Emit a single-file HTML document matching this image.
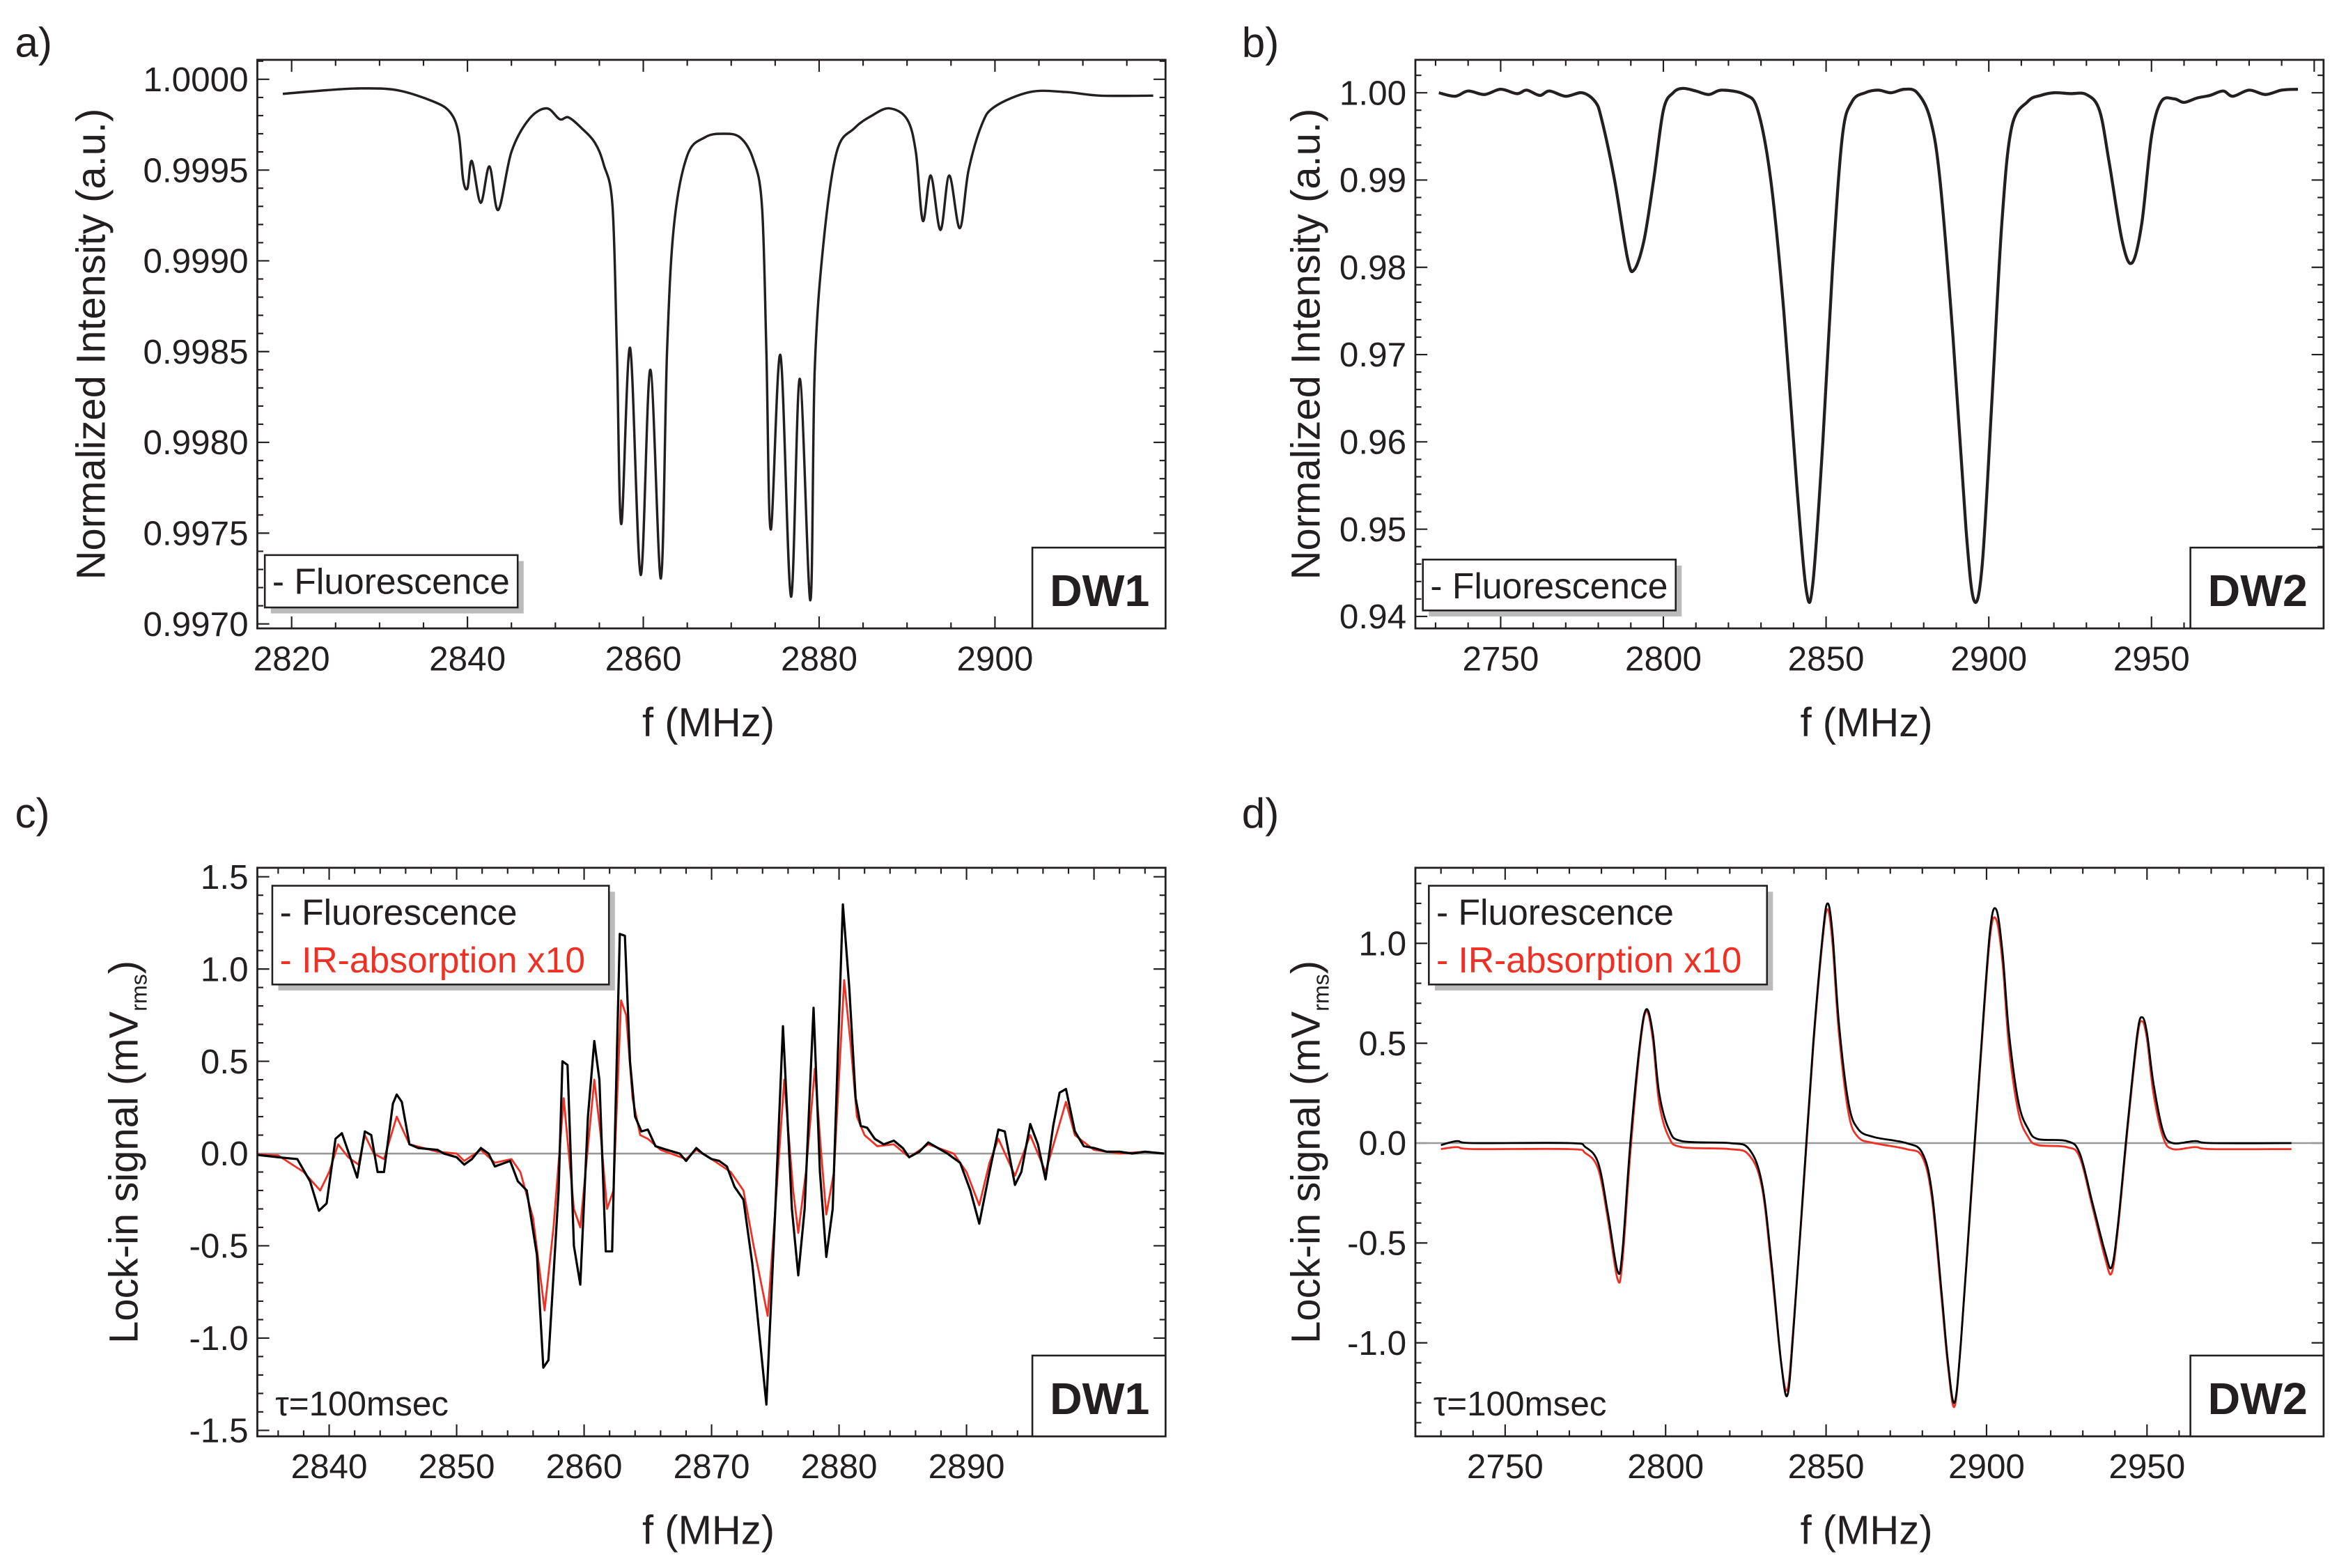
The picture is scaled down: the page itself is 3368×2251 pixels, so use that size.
<!DOCTYPE html>
<html><head><meta charset="utf-8"><style>
html,body{margin:0;padding:0;background:#fff;}
svg{display:block;}
text{font-family:"Liberation Sans Narrow","Liberation Sans",sans-serif;fill:#231f20;}
</style></head><body>
<svg id="fig" xmlns="http://www.w3.org/2000/svg" width="3368" height="2251" viewBox="0 0 1568 1048" preserveAspectRatio="none"></svg>
<script>
// ---- Panel a data (DW1 fluorescence) ----
const aFreq=[2819,2824,2828,2832,2836,2838,2839,2839.5,2840,2840.5,2841.5,2842.5,2843.5,2845,2847,2849,2850.5,2851.5,2853,2854.5,2855.5,2856.5,2857,2857.5,2858.5,2859.7,2860.8,2862,2862.7,2863.5,2865,2867,2869,2871,2872.5,2873.5,2874,2874.5,2875.6,2876.8,2877.8,2879,2879.5,2880.5,2882,2884,2886,2888,2890,2891,2891.8,2892.7,2893.8,2894.8,2896,2897,2898.5,2900,2904,2908,2912,2918];
const aVal=[0.99992,0.99994,0.99995,0.99994,0.99988,0.99982,0.9997,0.99945,0.9994,0.99955,0.99932,0.99952,0.99928,0.9996,0.99978,0.99984,0.99978,0.99979,0.99973,0.99965,0.99953,0.9993,0.9985,0.99755,0.99852,0.99727,0.9984,0.99725,0.9985,0.9992,0.99958,0.99968,0.9997,0.99968,0.99956,0.9993,0.9985,0.99752,0.99848,0.99715,0.99835,0.99713,0.9984,0.9991,0.9996,0.99973,0.9998,0.99984,0.99978,0.9996,0.99922,0.99947,0.99917,0.99947,0.99918,0.9995,0.99975,0.99985,0.99993,0.99993,0.99991,0.99991];
// ---- Panel b data (DW2 fluorescence) ----
const bFreq=[2731,2736,2740,2745,2750,2755,2758,2762,2765,2770,2775,2779,2781,2785,2789,2791,2794,2797,2800,2803,2806,2810,2814,2818,2825,2829,2833,2837,2841,2844,2846,2849,2852,2855,2858,2862,2866,2870,2874,2878,2882,2885,2889,2893,2895.5,2898,2901,2904,2907,2912,2916,2920,2925,2930,2934,2937,2941,2944,2947,2950,2953,2957,2960,2964,2968,2972,2975,2980,2985,2990,2995];
const bVal=[1.0,0.9996,1.0002,0.9998,1.0004,0.9999,1.0003,0.9997,1.0002,0.9996,1.0,0.999,0.997,0.99,0.981,0.9797,0.983,0.99,0.998,1.0,1.0005,1.0002,0.9998,1.0003,0.9998,0.998,0.99,0.975,0.955,0.9428,0.944,0.96,0.98,0.995,0.999,1.0,1.0003,1.0,1.0004,1.0,0.997,0.99,0.972,0.95,0.9418,0.946,0.965,0.985,0.996,0.999,0.9997,1.0,0.9999,0.9998,0.998,0.992,0.983,0.9805,0.985,0.995,0.999,0.9993,0.9989,0.9994,0.9997,1.0002,0.9996,1.0003,0.9998,1.0003,1.0004];
// ---- Panel c data (DW1 lock-in) ----
const cFreq=[2833.5,2836,2837.5,2838.5,2839.2,2839.8,2840.5,2841,2841.8,2842.2,2842.8,2843.3,2843.8,2844.3,2845,2845.3,2845.7,2846.3,2847,2848.5,2849,2850,2850.6,2851.2,2851.9,2852.5,2853,2853.8,2854.2,2854.8,2855.5,2856.3,2856.8,2857.2,2858,2858.3,2858.7,2859.2,2859.7,2860.3,2860.8,2861.2,2861.7,2862.2,2862.8,2863.2,2863.6,2864,2864.5,2865,2865.6,2866.5,2867.5,2868,2868.8,2869.3,2870,2870.6,2871.2,2871.8,2872.5,2873.2,2874.3,2875,2875.6,2876.3,2876.8,2877.3,2878,2878.5,2879,2879.5,2880.3,2880.8,2881.3,2881.7,2882.2,2882.8,2883.5,2884.3,2885,2885.5,2886.3,2887,2887.5,2888.5,2889.5,2890.3,2891,2891.8,2892.5,2893,2893.8,2894.3,2895,2895.6,2896.2,2896.8,2897.3,2897.8,2898.5,2899.2,2900,2901,2902,2903,2904,2905.5];
const cFluo=[0,-0.02,-0.03,-0.15,-0.31,-0.27,0.08,0.11,-0.05,-0.13,0.12,0.10,-0.10,-0.10,0.27,0.32,0.28,0.05,0.03,0.02,0,-0.02,-0.06,-0.03,0.03,0,-0.07,-0.05,-0.04,-0.15,-0.2,-0.55,-1.16,-1.12,-0.2,0.5,0.48,-0.5,-0.71,0.2,0.61,0.4,-0.53,-0.53,1.19,1.18,0.5,0.2,0.12,0.13,0.04,0.02,0,-0.04,0.03,0,-0.03,-0.04,-0.07,-0.18,-0.25,-0.6,-1.36,-0.3,0.69,-0.3,-0.66,-0.3,0.79,-0.1,-0.56,-0.3,1.35,0.9,0.3,0.15,0.14,0.08,0.05,0.07,0.03,-0.02,0.01,0.06,0.04,0,-0.05,-0.2,-0.38,-0.1,0.13,0.12,-0.17,-0.1,0.16,0.05,-0.14,0.15,0.33,0.35,0.12,0.04,0.03,0.01,0.01,0,0.01,0];
const cIRFreq=[2833.5,2836,2838,2839.3,2840,2840.7,2841.5,2842.3,2842.8,2843.5,2844.3,2845.3,2846.3,2848.5,2850,2850.6,2851.9,2853,2854.3,2855,2856,2856.9,2857.6,2858.4,2859.2,2859.7,2860.8,2861.3,2861.8,2862.3,2862.9,2863.3,2863.8,2864.4,2865,2866,2868,2868.8,2870,2871.5,2872.5,2873.3,2874.4,2875.1,2875.7,2876.4,2876.8,2877.4,2878.1,2878.6,2879,2879.6,2880.4,2880.9,2881.4,2882,2883,2884.3,2885.5,2887,2889,2890,2891,2891.8,2892.5,2893.8,2895,2896.2,2897.8,2898.5,2900,2902,2904,2905.5];
const cIR=[0,-0.01,-0.1,-0.2,-0.1,0.05,-0.02,-0.06,0.1,0,-0.03,0.2,0.05,0.01,0,-0.04,0.02,-0.05,-0.03,-0.1,-0.35,-0.85,-0.4,0.3,-0.3,-0.4,0.4,0.1,-0.3,-0.2,0.83,0.75,0.3,0.1,0.08,0.02,-0.03,0.02,-0.03,-0.1,-0.2,-0.5,-0.88,-0.2,0.4,-0.2,-0.43,-0.1,0.46,0,-0.33,-0.1,0.94,0.6,0.2,0.1,0.04,0.05,-0.02,0.05,0,-0.1,-0.28,-0.05,0.08,-0.12,0.1,-0.1,0.28,0.1,0.02,0,0.01,0];
// ---- Panel d data (DW2 lock-in) ----
const dFreq=[2730,2735,2740,2770,2775,2779,2782,2785,2786.5,2789,2792,2794,2796,2798,2801,2805,2820,2826,2830,2833,2836,2838,2840,2843,2846,2849,2850.5,2852,2854,2857,2860,2865,2875,2880,2883,2886,2888,2890,2892,2895,2898,2901,2903,2905,2907,2910,2913,2916,2925,2929,2933,2937,2939,2941,2944,2947,2948.5,2950,2952,2955,2958,2965,2970,2995];
const dFluo=[-0.01,0.01,0,0,-0.02,-0.1,-0.35,-0.64,-0.55,0,0.5,0.67,0.55,0.25,0.07,0.01,0,-0.03,-0.2,-0.6,-1.1,-1.26,-0.9,-0.2,0.5,1.05,1.2,1.05,0.6,0.2,0.07,0.03,0,-0.05,-0.25,-0.75,-1.1,-1.3,-1.0,-0.3,0.4,1.05,1.17,0.95,0.55,0.2,0.07,0.02,0.01,-0.05,-0.3,-0.55,-0.62,-0.4,0.1,0.55,0.63,0.55,0.3,0.06,0,0.01,0,0];
const dIR=[-0.03,-0.02,-0.03,-0.03,-0.05,-0.13,-0.38,-0.68,-0.6,-0.05,0.48,0.66,0.52,0.2,0.03,-0.02,-0.03,-0.06,-0.22,-0.63,-1.1,-1.23,-0.88,-0.22,0.48,1.03,1.17,1.0,0.55,0.15,0.03,0,-0.03,-0.07,-0.28,-0.78,-1.12,-1.32,-1.0,-0.32,0.38,1.02,1.12,0.9,0.48,0.15,0.03,-0.01,-0.02,-0.07,-0.32,-0.58,-0.65,-0.42,0.08,0.53,0.61,0.52,0.25,0.03,-0.03,-0.02,-0.03,-0.03];
// tick labels
const aYTicks=["1.0000","0.9995","0.9990","0.9985","0.9980","0.9975","0.9970"];
const aXTicks=["2820","2840","2860","2880","2900"];
const bYTicks=["1.00","0.99","0.98","0.97","0.96","0.95","0.94"];
const bXTicks=["2750","2800","2850","2900","2950"];
const cYTicks=["1.5","1.0","0.5","0.0","-0.5","-1.0","-1.5"];
const cXTicks=["2840","2850","2860","2870","2880","2890"];
const dYTicks=["1.0","0.5","0.0","-0.5","-1.0"];
const dXTicks=["2750","2800","2850","2900","2950"];

const NS="http://www.w3.org/2000/svg";
const svg=document.getElementById('fig');
function el(tag,attrs,parent,txt){const e=document.createElementNS(NS,tag);for(const k in attrs)e.setAttribute(k,attrs[k]);if(txt!==undefined)e.textContent=txt;(parent||svg).appendChild(e);return e;}
function smoothPath(pts){
  let d='M'+pts[0][0].toFixed(2)+','+pts[0][1].toFixed(2);
  for(let i=0;i<pts.length-1;i++){
    const p0=pts[Math.max(0,i-1)],p1=pts[i],p2=pts[i+1],p3=pts[Math.min(pts.length-1,i+2)];
    const c1=[p1[0]+(p2[0]-p0[0])/6,p1[1]+(p2[1]-p0[1])/6];
    const c2=[p2[0]-(p3[0]-p1[0])/6,p2[1]-(p3[1]-p1[1])/6];
    d+='C'+c1[0].toFixed(2)+','+c1[1].toFixed(2)+' '+c2[0].toFixed(2)+','+c2[1].toFixed(2)+' '+p2[0].toFixed(2)+','+p2[1].toFixed(2);
  }
  return d;
}
let clipId=0;
function panel(p){
  const g=el('g',{});
  
  
  const X=v=>p.box[0]+(v-p.x0)/(p.x1-p.x0)*(p.box[2]-p.box[0]);
  const Y=v=>p.box[1]+(p.y1-v)/(p.y1-p.y0)*(p.box[3]-p.box[1]);
  const [L,T,R,B]=p.box;
  const cid='clip'+(clipId++);
  const cp=el('clipPath',{id:cid},g);
  el('rect',{x:L,y:T,width:R-L,height:B-T},cp);
  const tg=el('g',{stroke:'#231f20','stroke-width':1},g);
  
  
  const eps=1e-9;
  for(let v=Math.ceil(p.x0/p.xMin)*p.xMin;v<=p.x1+eps;v+=p.xMin){
    const major=Math.abs(v/p.xMaj-Math.round(v/p.xMaj))<1e-6;const len=major?8:4;const x=X(v);
    el('line',{x1:x,y1:B,x2:x,y2:B-len},tg);el('line',{x1:x,y1:T,x2:x,y2:T+len},tg);
  }
  for(let v=Math.ceil(p.y0/p.yMin-1e-6)*p.yMin;v<=p.y1+eps;v+=p.yMin){
    const major=Math.abs(v/p.yMaj-Math.round(v/p.yMaj))<1e-6;const len=major?8:4;const y=Y(v);
    el('line',{x1:L,y1:y,x2:L+len,y2:y},tg);el('line',{x1:R,y1:y,x2:R-len,y2:y},tg);
  }
  p.yTicks.forEach(s=>{const t=el('text',{x:L-6,y:Y(parseFloat(s))+8,'text-anchor':'end','font-size':23},g,s);
    
    });
  p.xTicks.forEach(s=>{const t=el('text',{x:X(parseFloat(s)),y:B+28,'text-anchor':'middle','font-size':23},g,s);
    
    });
  if(p.zero){const z=el('line',{x1:L,x2:R,y1:Y(0),y2:Y(0),stroke:'#999','stroke-width':1.2},g);
    
    }
  p.series.forEach(s=>{
    const pts=s.f.map((f,i)=>[X(f),Y(s.v[i])]);
    const d=p.smooth?smoothPath(pts):pts.map((q,i)=>(i?'L':'M')+q[0].toFixed(2)+','+q[1].toFixed(2)).join('');
    const path=el('path',{d:d,fill:'none',stroke:s.color,'stroke-width':s.w,'stroke-linejoin':'round','clip-path':'url(#'+cid+')'},g);
    
    
  });
  const frame=el('rect',{x:L,y:T,width:R-L,height:B-T,fill:'none',stroke:'#231f20','stroke-width':1.3},g);
  
  
  const lg=el('g',{},g);
  
  
  const lb=p.legend;
  el('rect',{x:lb[0]+4,y:lb[1]+4,width:lb[2]-lb[0],height:lb[3]-lb[1],fill:'#bbb'},lg);
  el('rect',{x:lb[0],y:lb[1],width:lb[2]-lb[0],height:lb[3]-lb[1],fill:'#fff',stroke:'#231f20','stroke-width':1.2},lg);
  const t1=el('text',{x:lb[0]+5,y:lb[1]+26,'font-size':24},lg,'- Fluorescence');
  
  
  if(p.ir){const t2=el('text',{x:lb[0]+5,y:lb[1]+58,'font-size':24,style:'fill:#ee3124'},lg,'- IR-absorption x10');
    
    }
  const db=el('rect',{x:R-89,y:B-54,width:89,height:54,fill:'#fff',stroke:'#231f20','stroke-width':1.2},g);
  
  
  const dt=el('text',{x:R-44,y:B-15,'text-anchor':'middle','font-size':30,'font-weight':'bold',style:'font-family:"Liberation Sans",sans-serif;fill:#231f20'},g,p.dw);
  
  
  if(p.tau){const tt=el('text',{x:L+12,y:B-14,'font-size':23},g,'τ=100msec');
    
    }
  const xt=el('text',{x:(L+R)/2-2,y:B+72,'text-anchor':'middle','font-size':27},g,'f (MHz)');
  
  
  const cy=(T+B)/2;
  const yt=el('text',{x:p.ytx,y:cy,'text-anchor':'middle','font-size':27,transform:`rotate(-90 ${p.ytx} ${cy})`,style:'font-family:"Liberation Sans",sans-serif;fill:#231f20'},g);
  
  
  if(p.lockin){yt.textContent='Lock-in signal (mV';el('tspan',{'font-size':15,dy:6},yt,'rms');el('tspan',{dy:-6},yt,')');}
  else yt.textContent='Normalized Intensity (a.u.)';
  const pl=el('text',{x:p.lab[0],y:p.lab[1],'font-size':28},g,p.label);
  
  
}
panel({name:'panel-a',box:[172,40,779,420],x0:2816.1,x1:2919.4,y1:1.0000+13/364*0.003,y0:0.9970-3/364*0.003,
  xMaj:20,xMin:5,yMaj:0.0005,yMin:0.0001,yTicks:aYTicks,xTicks:aXTicks,smooth:true,
  series:[{name:'fluorescence-line',f:aFreq,v:aVal,color:'#231f20',w:1.6}],
  legend:[177,371,346,406],dw:'DW1',ytx:70,label:'a)',lab:[10,38]});
panel({name:'panel-b',box:[946,40,1553,420],x0:2750-57/2.175,x1:2750+(1553-1003)/2.175,y1:1.00+22/58.33*0.01,y0:0.94-8/58.33*0.01,
  xMaj:50,xMin:10,yMaj:0.01,yMin:0.002,yTicks:bYTicks,xTicks:bXTicks,smooth:true,
  series:[{name:'fluorescence-line',f:bFreq,v:bVal,color:'#231f20',w:2}],
  legend:[951,374,1120,408],dw:'DW2',ytx:882,label:'b)',lab:[830,38]});
panel({name:'panel-c',box:[172,580,779,960],x0:2840-48/8.52,x1:2840+(779-220)/8.52,y1:1.5+6/123.3,y0:-1.5-4/123.3,
  xMaj:10,xMin:2,yMaj:0.5,yMin:0.1,yTicks:cYTicks,xTicks:cXTicks,zero:true,ir:true,tau:true,lockin:true,
  series:[{name:'ir-absorption-line',f:cIRFreq,v:cIR,color:'#ee3124',w:1.3},{name:'fluorescence-line',f:cFreq,v:cFluo,color:'#000',w:1.5}],
  legend:[182,592,407,658],dw:'DW1',ytx:92,label:'c)',lab:[10,553]});
panel({name:'panel-d',box:[946,580,1553,960],x0:2750-60/2.145,x1:2750+(1553-1006)/2.145,y1:(764-580)/133.5,y0:-(960-764)/133.5,
  xMaj:50,xMin:10,yMaj:0.5,yMin:0.1,yTicks:dYTicks,xTicks:dXTicks,zero:true,ir:true,tau:true,lockin:true,smooth:true,
  series:[{name:'ir-absorption-line',f:dFreq,v:dIR,color:'#ee3124',w:1.3},{name:'fluorescence-line',f:dFreq,v:dFluo,color:'#000',w:1.3}],
  legend:[955,592,1181,658],dw:'DW2',ytx:882,label:'d)',lab:[830,553]});
</script>
</body></html>
